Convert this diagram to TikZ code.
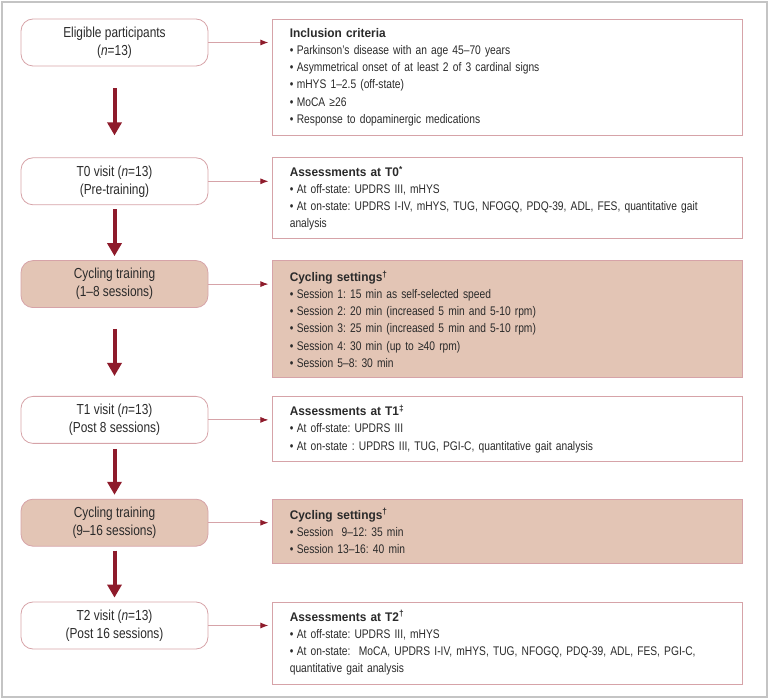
\documentclass[tikz,border=0pt]{standalone}
\usepackage{fontspec}
\setmainfont{Liberation Sans}[FakeStretch=0.82]
\newfontfamily\headfont{Liberation Sans}[FakeStretch=0.95]
\usetikzlibrary{positioning,arrows.meta}
\definecolor{boxline}{HTML}{D6A3A8}
\definecolor{boxfill}{HTML}{E3C5B5}
\definecolor{darkred}{HTML}{8E1B2B}
\definecolor{framegray}{HTML}{C4C4C4}
\definecolor{txt}{HTML}{2A2A2A}
\frenchspacing
\hyphenpenalty=10000
\exhyphenpenalty=10000
\newlength\bulw
\setlength\bulw{7pt}
\newcommand\itm{\par\noindent\hangindent=\bulw\hangafter=1\makebox[\bulw][l]{\textbullet}}
\newcommand\hd[1]{{\headfont\bfseries #1}}

\begin{document}
\begin{tikzpicture}[x=1pt, y=-1pt,
    visit/.style = {draw=boxline, line width=0.8pt, rounded corners=12pt, minimum width=187pt, minimum height=47pt, align=center, text=txt, font=\fontsize{14.5}{18}\selectfont, inner sep=0pt},
    train/.style = {visit, fill=boxfill},
    info/.style = {draw=boxline, line width=0.8pt, text width=436pt, inner xsep=17pt, inner ysep=0pt, align=left, text=txt, font=\fontsize{12.5}{17.2}\selectfont},
    infofill/.style = {info, fill=boxfill},
    down/.style = {darkred, line width=4pt, -{Triangle[length=13pt,width=14pt]}},
    side/.style = {boxline, line width=0.9pt, -{Latex[length=8pt,width=6pt,color=darkred]}, shorten >=4pt}]
        \useasboundingbox (0,0) rectangle (769,700);
        \draw[framegray, line width=1.5pt] (2,2) rectangle (767,697);
        % left column
        \node[visit] (e) at (114.5,42.5) {Eligible participants\\(\textit{n}=13)};
        \node[visit] [below=91pt of e] (t0) {T0 visit (\textit{n}=13)\\(Pre-training)};
        \node[train] [below=55pt of t0] (c1) {Cycling training\\(1–8 sessions)};
        \node[visit] [below=88pt of c1] (t1) {T1 visit (\textit{n}=13)\\(Post 8 sessions)};
        \node[train] [below=55pt of t1] (c2) {Cycling training\\(9–16 sessions)};
        \node[visit] [below=55pt of c2] (t2) {T2 visit (\textit{n}=13)\\(Post 16 sessions)};
        % right column
        \node[info, minimum height=116pt] [right=64pt of e.north east, anchor=north west] (inc) {\hd{Inclusion criteria}\itm Parkinson’s disease with an age 45–70 years\itm Asymmetrical onset of at least 2 of 3 cardinal signs\itm mHYS 1–2.5 (off-state)\itm MoCA ≥26\itm Response to dopaminergic medications};
        \node[info, minimum height=81pt] [right=64pt of t0.north east, anchor=north west] (a0) {\hd{Assessments at T0\textsuperscript{*}}\itm At off-state: UPDRS III, mHYS\itm At on-state: UPDRS I-IV, mHYS, TUG, NFOGQ, PDQ-39, ADL, FES, quantitative gait analysis};
        \node[infofill, minimum height=117pt] [right=64pt of c1.north east, anchor=north west] (s1) {\hd{Cycling settings\textsuperscript{†}}\itm Session 1: 15 min as self-selected speed\itm Session 2: 20 min (increased 5 min and 5-10 rpm)\itm Session 3: 25 min (increased 5 min and 5-10 rpm)\itm Session 4: 30 min (up to ≥40 rpm)\itm Session 5–8: 30 min};
        \node[info, minimum height=65pt] [right=64pt of t1.north east, anchor=north west] (a1) {\hd{Assessments at T1\textsuperscript{‡}}\itm At off-state: UPDRS III\itm At on-state : UPDRS III, TUG, PGI-C, quantitative gait analysis};
        \node[infofill, minimum height=64pt] [right=64pt of c2.north east, anchor=north west] (s2) {\hd{Cycling settings\textsuperscript{†}}\itm Session\ \ 9–12: 35 min\itm Session 13–16: 40 min};
        \node[info, minimum height=82pt] [right=64pt of t2.north east, anchor=north west] (a2) {\hd{Assessments at T2\textsuperscript{†}}\itm At off-state: UPDRS III, mHYS\itm At on-state:\ \ MoCA, UPDRS I-IV, mHYS, TUG, NFOGQ, PDQ-39, ADL, FES, PGI-C, quantitative gait analysis};
        % flow arrows
        \draw[down, shorten <=22pt, shorten >=22pt] (e) -- (t0);
        \draw[down, shorten <=4pt, shorten >=4pt] (t0) -- (c1);
        \draw[down, shorten <=21pt, shorten >=20pt] (c1) -- (t1);
        \draw[down, shorten <=5pt, shorten >=4pt] (t1) -- (c2);
        \draw[down, shorten <=4pt, shorten >=4pt] (c2) -- (t2);
        \draw[side] (e.east) -- (e.east -| inc.west);
        \draw[side] (t0.east) -- (t0.east -| a0.west);
        \draw[side] (c1.east) -- (c1.east -| s1.west);
        \draw[side] (t1.east) -- (t1.east -| a1.west);
        \draw[side] (c2.east) -- (c2.east -| s2.west);
        \draw[side] (t2.east) -- (t2.east -| a2.west);
    \end{tikzpicture}
\end{document}
